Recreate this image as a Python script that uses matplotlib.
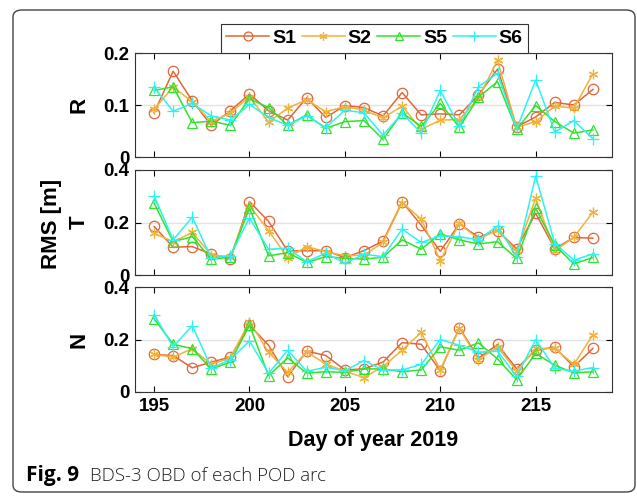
import numpy as np
import matplotlib
matplotlib.use("Agg")
import matplotlib.pyplot as plt
from matplotlib.patches import FancyBboxPatch

plt.rcParams['font.family'] = ['Liberation Sans', 'DejaVu Sans']
plt.rcParams['font.weight'] = 'bold'

days = np.arange(195, 219)

# R component RMS [m]
r_s1 = [0.085, 0.165, 0.108, 0.061, 0.089, 0.121, 0.089, 0.071, 0.114, 0.076, 0.099, 0.095,
        0.079, 0.124, 0.081, 0.083, 0.081, 0.119, 0.169, 0.058, 0.077, 0.105, 0.100, 0.130]
r_s2 = [0.092, 0.135, 0.106, 0.068, 0.085, 0.116, 0.067, 0.094, 0.110, 0.087, 0.097, 0.090,
        0.075, 0.098, 0.053, 0.071, 0.072, 0.113, 0.186, 0.057, 0.068, 0.098, 0.094, 0.160]
r_s5 = [0.128, 0.135, 0.066, 0.069, 0.061, 0.112, 0.095, 0.061, 0.081, 0.055, 0.068, 0.070,
        0.034, 0.085, 0.059, 0.103, 0.057, 0.115, 0.145, 0.053, 0.099, 0.068, 0.046, 0.052]
r_s6 = [0.134, 0.088, 0.103, 0.079, 0.071, 0.101, 0.076, 0.061, 0.079, 0.057, 0.090, 0.085,
        0.042, 0.084, 0.046, 0.128, 0.059, 0.135, 0.161, 0.053, 0.148, 0.048, 0.070, 0.035]

# T component RMS [m]
t_s1 = [0.185, 0.106, 0.108, 0.080, 0.060, 0.280, 0.204, 0.092, 0.092, 0.093, 0.066, 0.093,
        0.129, 0.279, 0.190, 0.090, 0.195, 0.144, 0.169, 0.100, 0.235, 0.100, 0.143, 0.140]
t_s2 = [0.159, 0.127, 0.162, 0.076, 0.070, 0.264, 0.169, 0.066, 0.108, 0.089, 0.073, 0.076,
        0.124, 0.276, 0.213, 0.055, 0.197, 0.136, 0.172, 0.090, 0.292, 0.093, 0.143, 0.240]
t_s5 = [0.274, 0.127, 0.146, 0.060, 0.068, 0.255, 0.073, 0.085, 0.048, 0.070, 0.064, 0.060,
        0.068, 0.134, 0.098, 0.157, 0.134, 0.118, 0.127, 0.063, 0.254, 0.114, 0.042, 0.067]
t_s6 = [0.302, 0.134, 0.220, 0.064, 0.074, 0.217, 0.098, 0.102, 0.051, 0.083, 0.045, 0.079,
        0.070, 0.175, 0.124, 0.149, 0.146, 0.134, 0.187, 0.070, 0.377, 0.120, 0.057, 0.080]

# N component RMS [m]
n_s1 = [0.143, 0.139, 0.092, 0.114, 0.133, 0.255, 0.178, 0.058, 0.156, 0.139, 0.084, 0.088,
        0.114, 0.188, 0.182, 0.081, 0.245, 0.129, 0.181, 0.089, 0.160, 0.170, 0.096, 0.166]
n_s2 = [0.143, 0.133, 0.165, 0.105, 0.130, 0.268, 0.152, 0.075, 0.152, 0.107, 0.079, 0.055,
        0.097, 0.159, 0.227, 0.084, 0.243, 0.123, 0.172, 0.080, 0.166, 0.166, 0.105, 0.218]
n_s5 = [0.279, 0.182, 0.165, 0.088, 0.114, 0.255, 0.062, 0.130, 0.072, 0.077, 0.075, 0.088,
        0.088, 0.077, 0.084, 0.172, 0.159, 0.187, 0.126, 0.047, 0.147, 0.102, 0.073, 0.077]
n_s6 = [0.294, 0.172, 0.253, 0.092, 0.123, 0.195, 0.071, 0.159, 0.079, 0.094, 0.081, 0.120,
        0.084, 0.084, 0.105, 0.200, 0.178, 0.152, 0.156, 0.060, 0.200, 0.090, 0.080, 0.093]

names = ['S1', 'S2', 'S5', 'S6']
colors = ['#E2663A', '#F0B43A', '#2EE32E', '#2EF2F2']
markers = ['o', (6, 2, 0), '^', '+']
msizes = [7.5, 7, 7.5, 9]
panels = [('R', [r_s1, r_s2, r_s5, r_s6], 0.2, [0, 0.1, 0.2]),
          ('T', [t_s1, t_s2, t_s5, t_s6], 0.4, [0, 0.2, 0.4]),
          ('N', [n_s1, n_s2, n_s5, n_s6], 0.4, [0, 0.2, 0.4])]

W, H = 637, 496
fig = plt.figure(figsize=(W / 100, H / 100), dpi=100)

# outer rounded frame
frame = FancyBboxPatch((13 / W, 4 / H), 622 / W, 482 / H,
                       boxstyle="round,pad=0,rounding_size=0.014",
                       transform=fig.transFigure, fill=False,
                       edgecolor='#444444', linewidth=1.0)
fig.patches.append(frame)

ax_left, ax_w = 135 / W, 477 / W
tops = [53, 170, 287]
heights = [104, 105, 105]
axes = []
for (lab, series, ymax, yt), top, h in zip(panels, tops, heights):
    ax = fig.add_axes([ax_left, 1 - (top + h) / H, ax_w, h / H])
    for vals, nm, c, m, ms in zip(series, names, colors, markers, msizes):
        ax.plot(days, vals, color=c, marker=m, markersize=ms, fillstyle='none',
                linewidth=1.1, markeredgewidth=0.9, label=nm)
    ax.set_xlim(194, 219)
    ax.set_ylim(0, ymax)
    ax.set_yticks(yt)
    ax.set_yticklabels([('%g' % v) for v in yt])
    ax.set_xticks([195, 200, 205, 210, 215])
    ax.yaxis.grid(True, color='#e3e3e3', linewidth=1.0)
    ax.set_axisbelow(True)
    ax.tick_params(direction='in', top=True, right=True, length=4,
                   labelsize=13.5, width=0.8, pad=4)
    for sp in ax.spines.values():
        sp.set_linewidth(0.8)
        sp.set_color('#333333')
    ax.set_ylabel(lab, fontsize=16, fontweight='bold', va='center')
    ax.yaxis.set_label_coords((79 - 135) / 477, 0.5)
    if lab != 'N':
        ax.set_xticklabels([])
    axes.append(ax)

axes[-1].set_xlabel('Day of year 2019', fontsize=15.5, fontweight='bold', labelpad=11)
fig.text(51 / W, 1 - 224 / H, 'RMS [m]', rotation=90, ha='center', va='center',
         fontsize=16, fontweight='bold')

handles, labels = axes[0].get_legend_handles_labels()
leg = fig.legend(handles, labels, loc='lower center', ncol=4,
                 bbox_to_anchor=(374.5 / W, 1 - 53 / H), fancybox=False,
                 framealpha=1, edgecolor='#333333', fontsize=14,
                 handlelength=2.2, handletextpad=0.15, columnspacing=0.3,
                 borderpad=0.3, borderaxespad=0, markerscale=0.85)
leg.get_frame().set_linewidth(0.8)

fig.text(26 / W, 1 - 481 / H, 'Fig. 9', family=['Open Sans', 'DejaVu Sans'],
         fontweight='bold', fontsize=15, va='baseline')
fig.text(90 / W, 1 - 481 / H, 'BDS-3 OBD of each POD arc',
         family=['Open Sans', 'DejaVu Sans'], fontweight='light', fontsize=13.5,
         va='baseline', color='#222222')

fig.savefig('out.png', dpi=100)
